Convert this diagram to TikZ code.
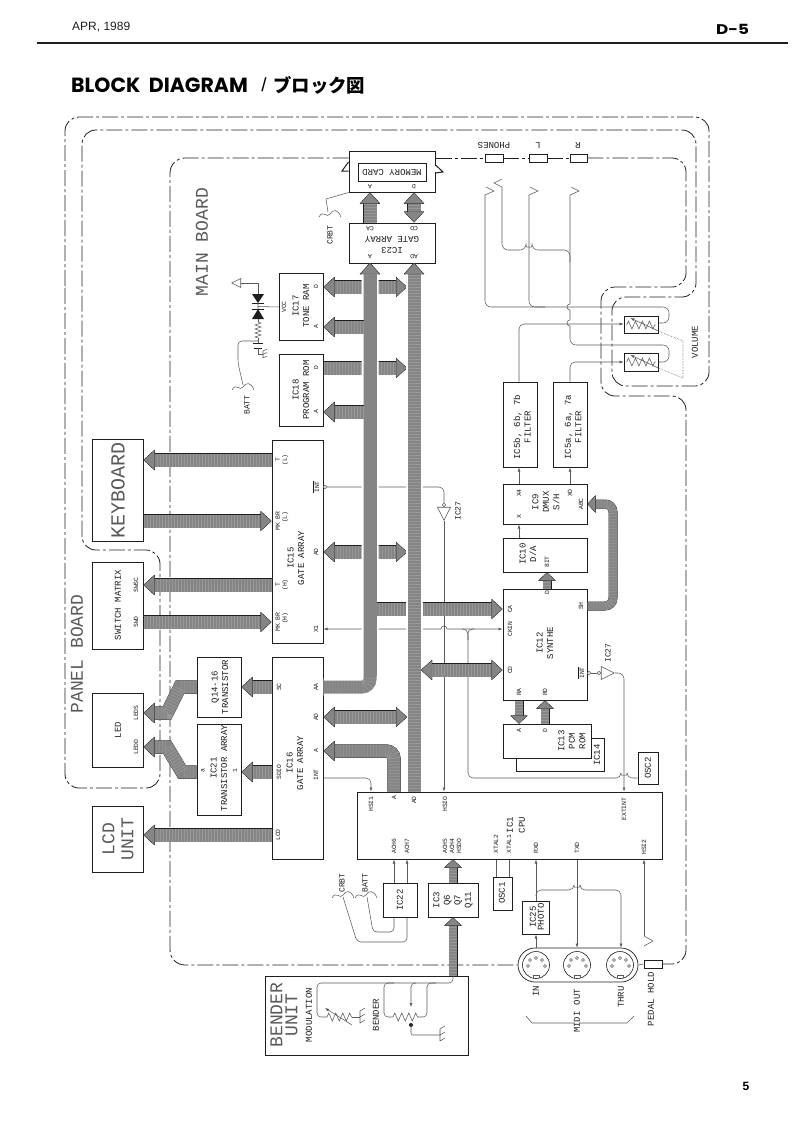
\documentclass[tikz,border=0pt]{standalone}
\usepackage{fontspec}
\setmainfont{Liberation Mono}
\newfontfamily\headsans{Liberation Sans}
\newfontfamily\headwide{Poppins}
\newfontfamily\headjp{Noto Sans CJK JP}
\usepackage{tikz}
\usetikzlibrary{arrows.meta,positioning,fit,decorations.pathmorphing,shapes.geometric}
\definecolor{ink}{HTML}{1E1E1E}
\definecolor{wire}{HTML}{5A5A5A}
\definecolor{busgray}{HTML}{858585}
\newcommand{\curl}[2]{\draw[wire] (#1-11,#2+3) .. controls (#1-7,#2-5) and (#1-3,#2+5) .. (#1,#2) .. controls (#1+3,#2-5) and (#1+8,#2-5) .. (#1+11,#2+3);}
\newcommand{\earth}[2]{\draw[wire] (#1,#2-6) -- (#1,#2+6) (#1,#2-6) -- ++(5,-3) (#1,#2) -- ++(5,-3) (#1,#2+6) -- ++(5,-3);}
\begin{document}
\begin{tikzpicture}[
 x=1pt,y=-1pt,
 >={Latex[length=4pt,width=3pt]},
 blk/.style={draw=ink,line width=1pt,fill=white,inner sep=0pt},
 txt/.style={rotate=90,align=center,inner sep=0pt,font=\fontsize{9}{10.5}\selectfont,text=ink},
 pinl/.style={rotate=90,align=center,inner sep=0pt,font=\fontsize{6.4}{7}\selectfont,text=ink},
 big/.style={txt,font=\fontsize{18}{15}\selectfont,text=wire},
 wire/.style={draw=wire,line width=.55pt},
 rc/.style={rounded corners=#1pt},
 brd/.style={draw=ink,line width=.8pt,dash pattern=on 16pt off 3pt on 3pt off 3pt},
 bus/.style={line width=13pt,draw=busgray,preaction={draw=ink,line width=13.5pt},
  postaction={draw=white,draw opacity=.15,dash pattern=on .7pt off 2.3pt},
  >={Triangle[length=11pt,width=20pt,line width=.5pt,color=ink,fill=busgray]}},
 tbus/.style={line width=8.5pt,draw=busgray,preaction={draw=ink,line width=9pt},
  postaction={draw=white,draw opacity=.15,dash pattern=on .7pt off 2.3pt},
  >={Triangle[length=8pt,width=17pt,line width=.5pt,color=ink,fill=busgray]}},
 halo/.style={preaction={draw=white,line width=17pt}},
 buf/.style={isosceles triangle,isosceles triangle stretches,draw=wire,line width=.6pt,fill=white,inner sep=0pt,minimum width=13pt,minimum height=13pt},
 bubble/.style={circle,draw=wire,line width=.5pt,fill=white,inner sep=0pt,minimum size=3.5pt},
 jack/.style={circle,draw=ink,line width=.6pt,inner sep=0pt,minimum size=27pt},
 zig/.style={wire,decorate,decoration={zigzag,segment length=7pt,amplitude=4pt}}
]
\useasboundingbox (0,0) rectangle (792,1122);
% page head
\node[anchor=west,inner sep=0pt,font=\headsans\fontsize{12}{12}\selectfont,text=ink] (date) at (72,27) {APR, 1989};
\node[anchor=west,inner sep=0pt,font=\headwide\bfseries\fontsize{14}{14}\selectfont] (pageid) at (716,29) {\scalebox{1.2}[1]{D-5}};
\coordinate (rulel) at (37,43);
\coordinate (ruler) at (788,43);
\draw[line width=1.5pt,draw=ink] (rulel) -- (ruler);
\node[anchor=west,inner sep=0pt,font=\headwide\bfseries\fontsize{20.5}{20}\selectfont] (title) at (71,85) {BLOCK\hspace{4pt} DIAGRAM};
\node[inner sep=0pt,font=\headsans\fontsize{19}{19}\selectfont] (titlesl) at (264,85) {/};
\node[anchor=west,inner sep=0pt,font=\headjp\bfseries\fontsize{18.4}{18}\selectfont] (titlejp) at (273,85) {ブロック図};
\node[inner sep=0pt,font=\headsans\bfseries\fontsize{12}{12}\selectfont] (pageno) at (746,1086) {5};

% panel and volume board outline
\draw[brd,rc=14] (65,300) -- (65,117) -- (709,117) -- (709,386) -- (612,386) -- (612,297) -- (696,297) -- (696,130) -- (82,130) -- (82,550) -- (160,550) -- (160,788) -- (65,788) -- cycle;
\node[big] (panelt) at (77,654) {PANEL BOARD};
\node[big] (maint) at (202,242) {MAIN BOARD};
\node[txt] (volt) at (695,342) {VOLUME};

% blocks
\node[blk,fit={(92,439) (143,541)}] (keyb) {};
\node[blk,fit={(92,562) (143,649)}] (swm) {};
\node[blk,fit={(92,693) (143,767)}] (led) {};
\node[blk,fit={(92,806) (143,872)}] (lcd) {};
\node[blk,fit={(197,657) (241,717)}] (q14) {};
\node[blk,fit={(197,724) (241,815)}] (ic21) {};
\node[blk,fit={(272,440) (323,643)}] (ic15) {};
\node[blk,fit={(272,657) (323,859)}] (ic16) {};
\node[blk,fit={(279,273) (323,340)}] (ic17) {};
\node[blk,fit={(279,354) (323,426)}] (ic18) {};
\node[blk,fit={(349,223) (435,263)}] (ic23) {};
\node[blk,fit={(349,151) (435,192)}] (memc) {};
\node[blk,fit={(358,163) (426,181)}] (memin) {};
\draw[draw=white,line width=1.6pt] (memc.west |- 0,163) -- (memc.west |- 0,170);
\draw[draw=white,line width=1.6pt] (memc.east |- 0,166) -- (memc.east |- 0,172);
\draw[draw=ink,line width=1pt] (memc.west |- 0,162) -- (342,171) -- (memc.west |- 0,171);
\draw[draw=ink,line width=1pt] (memc.east |- 0,165) -- (443,172) -- (memc.east |- 0,173);
\node[blk,fit={(503,382) (537,467)}] (ic5b) {};
\node[blk,fit={(553,382) (587,467)}] (ic5a) {};
\node[blk,fit={(503,484) (587,524)}] (ic9) {};
\node[blk,fit={(503,538) (587,572)}] (ic10) {};
\node[blk,fit={(503,589) (587,700)}] (ic12) {};
\node[blk,fit={(516,738) (604,771)}] (ic14) {};
\node[blk,fit={(503,724) (591,758)}] (ic13) {};
\node[blk,fit={(638,752) (658,784)}] (osc2) {};
\node[blk,fit={(357,792) (662,859)}] (cpu) {};
\node[blk,fit={(383,883) (417,917)}] (ic22) {};
\node[blk,fit={(428,883) (478,917)}] (ic3) {};
\node[blk,fit={(493,877) (512,910)}] (osc1) {};
\node[blk,fit={(522,901) (549,934)}] (ic25) {};
\node[blk,fit={(265,976) (468,1055)}] (bender) {};

% block texts
\node[big,font=\fontsize{20}{15}\selectfont] (keybt) at (118,490) {KEYBOARD};
\node[txt] (swmt) at (118,605) {SWITCH MATRIX};
\node[txt] (ledt) at (118,730) {LED};
\node[big,font=\fontsize{18}{19}\selectfont] (lcdt) at (118,839) {LCD\\UNIT};
\node[txt] (q14t) at (220,687) {Q14-16\\TRANSISTOR};
\node[txt] (ic21t) at (219,768) {IC21\\TRANSISTOR ARRAY};
\node[pinl] (ic21a) at (203,771) {a};
\node[pinl] (ic21b) at (235,771) {1};
\node[txt] (ic15t) at (296,558) {IC15\\GATE ARRAY};
\node[txt] (ic16t) at (295,763) {IC16\\GATE ARRAY};
\node[txt] (ic17t) at (301,306) {IC17\\TONE RAM};
\node[txt] (ic18t) at (301,390) {IC18\\PROGRAM ROM};
\node[txt] (ic23t) at (392,245) {\rotatebox{90}{\shortstack{IC23\\[1pt]GATE ARRAY}}};
\node[txt] (memt) at (392,172) {\rotatebox{90}{MEMORY CARD}};
\node[txt] (ic5bt) at (522,427) {IC5b, 6b, 7b\\FILTER};
\node[txt] (ic5at) at (573,427) {IC5a, 6a, 7a\\FILTER};
\node[txt] (ic9t) at (546,502) {IC9\\DMUX\\S/H};
\node[txt] (ic10t) at (528,554) {IC10\\D/A};
\node[txt] (ic12t) at (545,643) {IC12\\SYNTHE};
\node[txt] (ic13t) at (572,741) {IC13\\PCM\\ROM};
\node[txt] (ic14t) at (597,755) {IC14};
\node[txt] (osc2t) at (648,768) {OSC2};
\node[txt,font=\fontsize{9}{12}\selectfont] (ic1t) at (516,825) {IC1\\CPU};
\node[txt] (ic22t) at (400,900) {IC22};
\node[txt] (ic3t) at (453,900) {IC3\\Q6\\Q7\\Q11};
\node[txt] (osc1t) at (502,893) {OSC1};
\node[txt,font=\fontsize{9}{8}\selectfont] (ic25t) at (537,917) {IC25\\PHOTO};
\node[big,font=\fontsize{18}{15}\selectfont] (bendt) at (284,1015) {BENDER\\UNIT};
\node[txt] (modt) at (309,1015) {MODULATION};
\node[txt] (bent) at (376,1015) {BENDER};
\node[txt,font=\fontsize{8}{9}\selectfont] (inv15t) at (458,511) {IC27};
\node[txt,font=\fontsize{8}{9}\selectfont] (inv12t) at (608,653) {IC27};
\node[txt,font=\fontsize{8}{9}\selectfont] (batt1t) at (247,405) {BATT};
\node[txt,font=\fontsize{8}{9}\selectfont] (crb1t) at (330,235) {CRBT};
\node[txt,font=\fontsize{8}{9}\selectfont] (crb2t) at (342,883) {CRBT};
\node[txt,font=\fontsize{8}{9}\selectfont] (batt2t) at (365,883) {BATT};
\node[txt] (int) at (536,991) {IN};
\node[txt] (outt) at (577,997) {OUT};
\node[txt] (thrut) at (621,997) {THRU};
\node[txt] (midit) at (577,1022) {MIDI};
\node[txt] (pedt) at (651,999) {PEDAL HOLD};
\node[txt] (phonest) at (494,145) {\rotatebox{90}{PHONES}};
\node[txt] (lt) at (538,145) {\rotatebox{90}{L}};
\node[txt] (rt) at (578,145) {\rotatebox{90}{R}};

% pin labels
\node[pinl] (swsc) at (136,585) {SWSC};
\node[pinl] (swd) at (136,622) {SWD};
\node[pinl] (leds) at (136,713) {LEDS};
\node[pinl] (ledd) at (136,747) {LEDD};
\node[pinl] (p15t) at (282,460) {T\\(L)};
\node[pinl,align=right] (p15k) at (282,521) {MK BR\\(L)};
\node[pinl] (p15h) at (282,585) {T\\(H)};
\node[pinl,align=right] (p15m) at (282,622) {MK BR\\(H)};
\node[pinl] (p15i) at (316,487) {$\overline{\mbox{INT}}$};
\node[pinl] (p15a) at (316,552) {AD};
\node[pinl] (p15x) at (316,629) {X1};
\node[pinl] (p16s) at (279,687) {SC};
\node[pinl] (p16d) at (279,772) {SDIO};
\node[pinl] (p16l) at (278,835) {LCD};
\node[pinl] (p16aa) at (316,687) {AA};
\node[pinl] (p16ad) at (316,717) {AD};
\node[pinl] (p16a) at (316,751) {A};
\node[pinl] (p16i) at (316,775) {INT};
\node[pinl] (p17v) at (284,307) {VCC};
\node[pinl] (p17d) at (316,287) {D};
\node[pinl] (p17a) at (316,327) {A};
\node[pinl] (p18d) at (316,368) {D};
\node[pinl] (p18a) at (316,412) {A};
\node[pinl] (p23ca) at (370,229) {\rotatebox{90}{CA}};
\node[pinl] (p23cd) at (414,229) {\rotatebox{90}{CD}};
\node[pinl] (p23a) at (370,257) {\rotatebox{90}{A}};
\node[pinl] (p23ad) at (414,257) {\rotatebox{90}{AD}};
\node[pinl] (pma) at (370,187) {\rotatebox{90}{A}};
\node[pinl] (pmd) at (414,187) {\rotatebox{90}{D}};
\node[pinl] (p9a) at (519,493) {X4};
\node[pinl] (p9x) at (519,517) {X};
\node[pinl] (p9o) at (570,493) {XO};
\node[pinl] (p9c) at (581,504) {ABC};
\node[pinl] (p10) at (547,562) {8IT};
\node[pinl] (p12d) at (547,593) {D};
\node[pinl] (p12ca) at (510,609) {CA};
\node[pinl] (p12ck) at (510,629) {CKIN};
\node[pinl] (p12cd) at (510,670) {CD};
\node[pinl] (p12ra) at (519,692) {RA};
\node[pinl] (p12rd) at (545,692) {RD};
\node[pinl] (p12sh) at (581,606) {SH};
\node[pinl] (p12i) at (581,673) {$\overline{\mbox{INT}}$};
\node[pinl] (p13a) at (519,731) {A};
\node[pinl] (p13d) at (545,731) {D};
\node[pinl] (cpus) at (371,804) {HSI1};
\node[pinl] (cpua) at (394,798) {A};
\node[pinl] (cpud) at (414,800) {AD};
\node[pinl] (cpuh) at (445,804) {HSIO};
\node[pinl] (cpu6) at (394,846) {ACH6};
\node[pinl] (cpu7) at (407,846) {ACH7};
\node[pinl] (cpu5) at (452,846) {ACH5\\ACH4\\HSDO};
\node[pinl] (cpux2) at (496,844) {XTAL2};
\node[pinl] (cpux1) at (509,844) {XTAL1};
\node[pinl] (cpur) at (536,848) {RXD};
\node[pinl] (cput) at (577,848) {TXD};
\node[pinl] (cpue) at (624,809) {EXTINT};
\node[pinl] (cpu2) at (644,847) {HSI2};

% jacks on the edge of the main board
\node[blk,line width=.7pt,fit={(485,154) (503,162)}] (phones) {};
\node[blk,line width=.7pt,fit={(529,154) (547,162)}] (lout) {};
\node[blk,line width=.7pt,fit={(570,154) (587,162)}] (rout) {};
\node[blk,line width=.7pt,fit={(644,960) (662,968)}] (pedal) {};
\node[blk,line width=.7pt,rounded corners=17pt,fill=none,fit={(518,948) (638,982)}] (midi) {};
\foreach \nm/\cx in {in/536,out/577,thru/620}{
 \node[jack] (jack\nm) at (\cx,965) {};
 \foreach \dx/\dy in {-8/1,-6/-5,0/-7,6/-5,9/1}
  \draw[wire] (\cx+\dx,965+\dy) circle[radius=1.5pt];
 \draw[wire] (\cx-3,978) -- (\cx-3,975) -- (\cx+3,975) -- (\cx+3,978);
}
\coordinate (midil) at (526,1016);
\coordinate (midir) at (634,1016);
\draw[wire] (midil) -- (532,1023) -- (midit.north |- 0,1023);
\draw[wire] (midir) -- (627,1023) -- (midit.south |- 0,1023);

% main board outline
\draw[brd,rc=15] (memc.west |- phones) -- (170,158) -- (170,965) -- (midi.west);
\draw[brd] (memc.east |- phones) -- (phones.west);
\draw[brd] (phones.east) -- (lout.west);
\draw[brd] (lout.east) -- (rout.west);
\draw[brd,rc=14] (rout.east) -- (686,158) -- (686,287) -- (601,287) -- (601,396) -- (686,396) -- (686,964) -- (pedal.east);
\draw[wire] (midi.east) -- (pedal.west);

% audio outputs
\draw[wire] (486,187) -- (494,191) -- (485,195) [rc=6] -- (485,307) -- (669,307) -- (669,323) -- (655,323);
\draw[wire] (530,187) -- (538,191) -- (529,195) [rc=6] -- (529,307) -- (545,307);
\draw[wire] (502,179) -- (494,183) -- (502,187) [rc=6] -- (502,250) -- (526,250) arc[start angle=180,end angle=0,radius=3pt] -- (570,250) -- (570,262);
\draw[wire] (571,187) -- (579,191) -- (570,195) -- (570,304) arc[start angle=90,end angle=270,radius=3pt] -- (570,320) arc[start angle=90,end angle=270,radius=3pt] [rc=6] -- (570,345) -- (669,345) -- (669,362) -- (655,362);
\node[blk,line width=.7pt,fit={(624,316) (658,333)}] (pot1) {};
\node[blk,line width=.7pt,fit={(624,353) (658,371)}] (pot2) {};
\foreach \pt/\py in {pot1/325,pot2/362}{
 \draw[zig] (\pt.west |- 0,\py) ++(3,0) -- ++(29,0);
 \draw[wire,->] (\pt.east |- 0,\py+6) -- ++(-28,-13);
}
\draw[wire,->,rc=5] (ic5b.north -| p9a) -- (519,324) -- (pot1.west |- 0,324);
\draw[wire,->,rc=5] (ic5a.north) -- (570,362) -- (pot2.west |- 0,362);
\draw[wire,densely dotted] (pot1.east |- 0,331) -- (683,341) -- (683,378) -- (pot2.east |- 0,368);
\draw[wire,->] (ic9.north -| p9a) -- (ic5b.south -| p9a);
\draw[wire,->] (ic9.north -| p9o) -- (ic5a.south -| p9o);
\draw[wire,->] (ic10.north -| p9x) -- (ic9.south -| p9x);

% signal lines
\node[bubble] (bub15) at (325,487) {};
\node[bubble] (bub27a) at (444,505) {};
\node[buf,shape border rotate=-90,anchor=apex] (inv15) at (444,521) {};
\draw[wire,rc=5] (bub15) -- (bub15 -| bub27a) -- (bub27a);
\draw[wire,->] (inv15.apex) -- (cpu.north -| inv15.apex);
\draw[wire,<->] (ic15.east |- p15x) -- (441,629) arc[start angle=180,end angle=0,radius=3pt] -- (ic12.west |- p12ck);
\draw[wire,rc=4] (474,629) -- (468,629) -- (468,640);
\draw[wire,rc=5] (462,629) -- (468,629) -- (468,778) -- (621,778) arc[start angle=180,end angle=0,radius=3pt] -- (osc2.west |- 0,778);
\node[bubble] (bub12) at (589,673) {};
\node[bubble] (bub27b) at (599,673) {};
\node[buf,shape border rotate=0,anchor=apex] (inv12) at (615,673) {};
\draw[wire] (bub12) -- (bub27b);
\draw[wire,->,rc=6] (inv12.apex) -- (624,673) -- (cpu.north -| 624,0);
\draw[wire,->,rc=5] (ic16.east |- 0,778) -- (371,778) -- (cpu.north -| 371,0);
\draw[wire,->] (ic22.north -| cpu6) -- (cpu.south -| cpu6);
\draw[wire,->] (ic22.north -| cpu7) -- (cpu.south -| cpu7);
\draw[wire] (osc1.north -| cpux2) -- (cpu.south -| cpux2);
\draw[wire] (osc1.north -| cpux1) -- (cpu.south -| cpux1);
\draw[wire,->] (ic25.north -| cpur) -- (cpu.south -| cpur);
\draw[wire,->] (midi.north -| cpur) -- (ic25.south -| cpur);
\draw[wire,->] (cpu.south -| cput) -- (midi.north -| cput);
\draw[wire,->,rc=5] (536,896) -- (536,890) -- (574,890) arc[start angle=180,end angle=0,radius=3pt] -- (621,890) -- (midi.north -| 621,0);
\draw[wire] (644,946) -- (653,941) -- (644,936);
\draw[wire,->] (644,936) -- (cpu.south -| cpu2);

% card and battery tails
\draw[wire] (memc.south west) -- (326,199) -- (328,212);
\curl{330}{214}
\draw[wire,rc=4] (ic22.south -| cpu6) -- (394,932) -- (373,932) -- (367,897);
\draw[wire,rc=4] (ic22.south -| cpu7) -- (407,942) -- (357,942) -- (343,897);
\curl{343}{895}
\curl{366}{895}

% tone ram backup supply
\node[buf,shape border rotate=180,anchor=apex,minimum width=9pt,minimum height=9pt] (vcc) at (231,283) {};
\draw[wire] (vcc.east) -- (258,283) -- (258,295);
\fill[ink] (252,294) -- (264,294) -- (258,303) -- cycle;
\draw[ink,line width=.8pt] (252,303) -- (264,303) (252,309) -- (264,309);
\fill[ink] (252,319) -- (264,319) -- (258,309) -- cycle;
\draw[wire] (258,303) -- (258,309) (258,306.5) -- (ic17.west |- p17v);
\draw[wire] (258,319) -- (258,322);
\draw[zig,decoration={zigzag,segment length=4pt,amplitude=3pt}] (258,322) -- (258,338);
\draw[wire] (258,338) -- (258,343);
\draw[ink,line width=.8pt] (253,343) -- (263,343) (254,348) -- (262,348);
\draw[wire] (258,348) -- (258,354) -- (263,354);
\draw[wire] (263,351) -- (263,358) (263,351) -- ++(4,-2) (263,354.5) -- ++(4,-2) (263,358) -- ++(4,-2);
\draw[wire,rc=4] (258,341) -- (238,341) -- (238,363) -- (243,385);
\curl{243}{387}

% bender unit parts
\draw[wire,rc=4] (bender.north -| ic3.south) -- (453,983) -- (317,983) -- (317,1017) -- (327,1017);
\draw[zig] (327,1017) -- (352,1017);
\draw[wire] (352,1017) -- (360,1017);
\earth{360}{1017}
\draw[wire,->] (352,1025) -- (325,1008);
\draw[wire,rc=4] (394,983) -- (384,983) -- (384,1017) -- (393,1017);
\draw[zig] (393,1017) -- (418,1017);
\draw[wire,rc=4] (418,1017) -- (427,1017) -- (427,983) -- (436,983);
\draw[wire,->,rc=4] (416,983) -- (411,983) -- (411,1007);
\fill[ink] (411,1025) circle[radius=2pt];
\draw[wire,rc=2] (411,1025) -- (411,1035) -- (440,1035);
\earth{440}{1035}

% buses, crossing ones first
\draw[bus,<->] (ic17.east |- p17d) -- (407,287);
\draw[bus,->] (ic18.east |- p18d) -- (407,368);
\draw[bus,<->] (ic15.east |- p15a) -- (407,552);
\draw[bus,halo,->,rc=8] (ic16.east |- p16aa) -- (370,687) -- (370,263);
\draw[bus,->] (370,327) -- (ic17.east |- p17a);
\draw[bus,->] (370,412) -- (ic18.east |- p18a);
\draw[bus,->] (370,609) -- (ic12.west |- p12ca);
\draw[draw=busgray,line width=13pt] (370,676) -- (370,274);
\draw[bus,halo,->] (cpu.north -| cpud) -- (414,263);
\draw[bus,<->] (ic16.east |- p16ad) -- (407,717);
\draw[bus,<->] (421,670) -- (ic12.west |- p12cd);
\draw[bus,->,rc=8] (cpu.north -| cpua) -- (394,751) -- (ic16.east |- p16a);
\draw[bus,->] (ic23.north -| p23a) -- (memc.south -| p23a);
\draw[bus,<->] (ic23.north -| p23ad) -- (memc.south -| p23ad);
\draw[bus,->] (ic15.west |- p15t) -- (keyb.east |- p15t);
\draw[bus,->] (keyb.east |- p15k) -- (ic15.west |- p15k);
\draw[bus,->] (ic15.west |- swsc) -- (swm.east |- swsc);
\draw[bus,->] (swm.east |- swd) -- (ic15.west |- swd);
\draw[bus,->] (ic16.west |- p16s) -- (q14.east |- p16s);
\draw[bus,->] (ic16.west |- p16d) -- (ic21.east |- p16d);
\draw[bus,->] (q14.west) -- (180,687) -- (167,713) -- (led.east |- leds);
\draw[bus,->] (ic21.west |- p16d) -- (182,772) -- (167,747) -- (led.east |- ledd);
\draw[bus,->] (ic16.west |- p16l) -- (lcd.east |- p16l);
\draw[tbus,->] (ic12.north -| p12d) -- (ic10.south -| p12d);
\draw[tbus,->,rc=8] (ic12.east |- p12sh) -- (613,606) -- (613,504) -- (ic9.east |- p9c);
\draw[tbus,->] (ic12.south -| p12ra) -- (ic13.north -| p12ra);
\draw[tbus,->] (ic13.north -| p12rd) -- (ic12.south -| p12rd);
\draw[tbus,->] (ic3.north) -- (cpu.south -| ic3.north);
\draw[tbus,->] (bender.north -| ic3.south) -- (ic3.south);
\end{tikzpicture}
\end{document}
